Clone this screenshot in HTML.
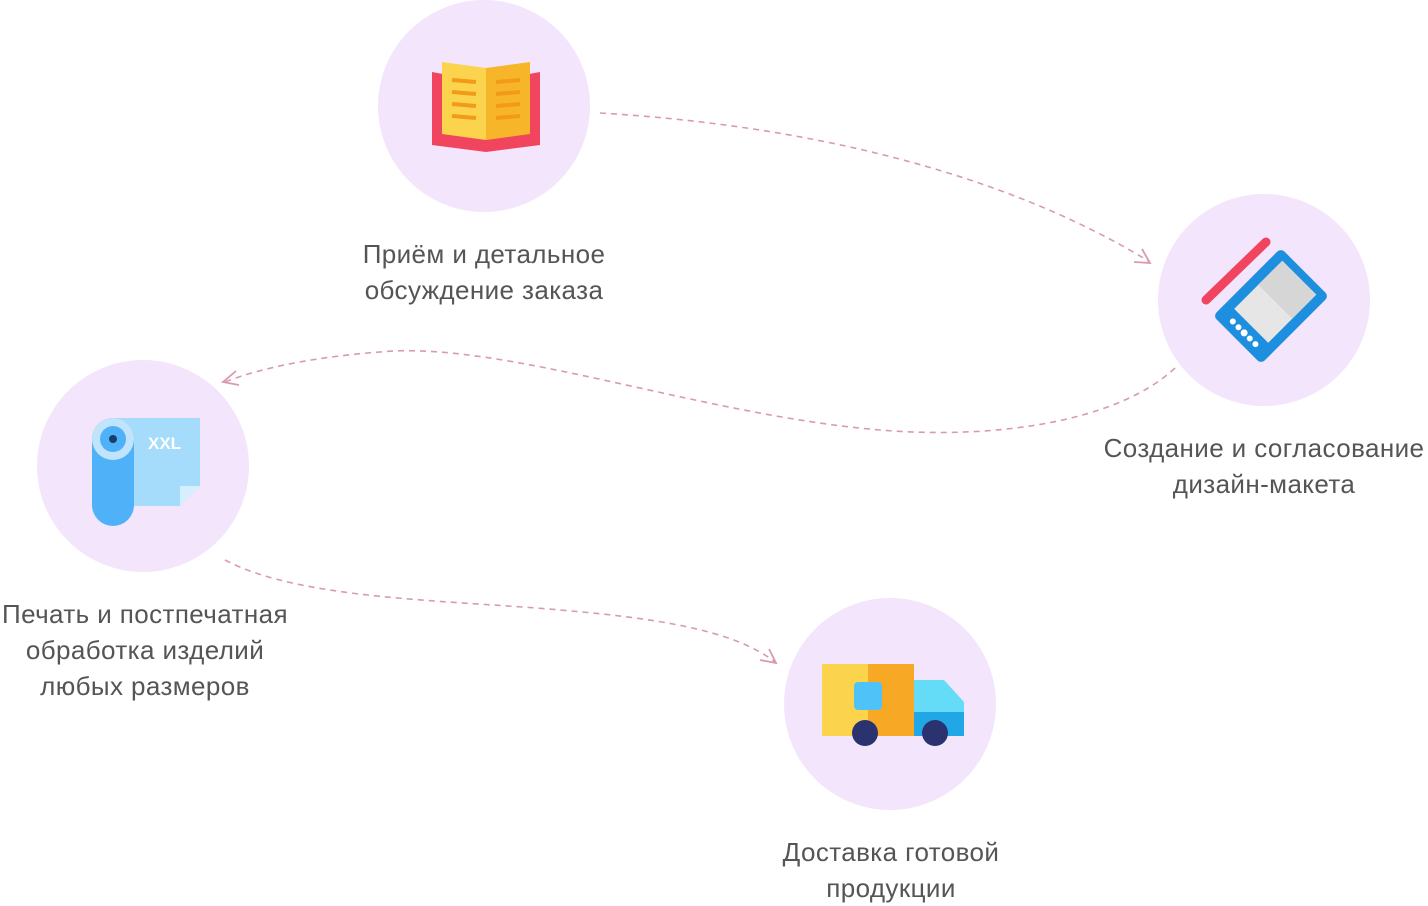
<!DOCTYPE html>
<html><head><meta charset="utf-8"><style>
body{margin:0;width:1428px;height:902px;background:#fff;position:relative;overflow:hidden;font-family:"Liberation Sans","DejaVu Sans",sans-serif}
.c{position:absolute;width:212px;height:212px;border-radius:50%;background:#f3e5fb}
.t{position:absolute;color:#555;font-size:26px;letter-spacing:0.4px;line-height:36px;text-align:center;white-space:nowrap}
</style></head><body>
<div class="c" style="left:378px;top:0px"></div>
<div class="c" style="left:1158px;top:194px"></div>
<div class="c" style="left:37px;top:360px"></div>
<div class="c" style="left:784px;top:598px"></div>
<svg width="1428" height="902" style="position:absolute;left:0;top:0">
<g fill="none" stroke="#d99ab0" stroke-width="1.6" stroke-dasharray="6 5">
<path d="M600 113 C800 125 1000 170 1150 262"/>
<path d="M1175 368 C1120 420 1000 440 880 430 C700 415 500 340 380 352 C300 358 250 372 225 382"/>
<path d="M225 560 C300 600 450 600 560 610 C680 620 740 635 775 662"/>
</g>
<g fill="none" stroke="#d99ab0" stroke-width="1.8">
<path d="M1134 262 L1150 263 L1142 249"/>
<path d="M236 371 L223 382 L239 385"/>
<path d="M760 660 L776 663 L769 649"/>
</g>
<path d="M432 72 L486 82 L540 72 L540 145 L486 152 L432 145Z" fill="#f0445f"/>
<path d="M442 62 L486 68 L486 140 L442 134Z" fill="#fcd34d"/>
<path d="M486 68 L530 62 L530 134 L486 140Z" fill="#f7b62a"/>
<g stroke="#f29a1a" stroke-width="4"><line x1="452" y1="80" x2="476" y2="82"/><line x1="452" y1="92" x2="476" y2="94"/><line x1="452" y1="104" x2="476" y2="106"/><line x1="452" y1="116" x2="476" y2="118"/><line x1="496" y1="82" x2="520" y2="80"/><line x1="496" y1="94" x2="520" y2="92"/><line x1="496" y1="106" x2="520" y2="104"/><line x1="496" y1="118" x2="520" y2="116"/></g>
<line x1="1206" y1="300" x2="1266" y2="242" stroke="#f0445f" stroke-width="9" stroke-linecap="round"/>
<g transform="translate(1271 306) rotate(-45)">
<rect x="-48" y="-34" width="96" height="68" rx="5" fill="#1e8fde"/>
<rect x="-28" y="-24" width="68" height="48" fill="#e6e6e6"/>
<rect x="6" y="-24" width="34" height="48" fill="#d6d6d6"/>
<g fill="#fff"><circle cx="-38" cy="-16" r="3"/><circle cx="-38" cy="-8" r="3"/><circle cx="-38" cy="0" r="3.5"/><circle cx="-38" cy="8" r="3"/><circle cx="-38" cy="16" r="3"/></g>
</g>
<path d="M114 418 L200 418 L200 486 L180 506 L114 506Z" fill="#a6dcfb"/>
<path d="M180 506 L200 486 L180 486Z" fill="#d6efff"/>
<rect x="92" y="418" width="42" height="108" rx="21" fill="#4fb2f8"/>
<circle cx="113" cy="439" r="21" fill="#bfe4fb"/>
<circle cx="113" cy="439" r="13" fill="#4fb2f8"/>
<circle cx="113" cy="439" r="4" fill="#1a3d6b"/>
<text x="148" y="449" font-size="17" font-weight="bold" fill="#fff" font-family="Liberation Sans">XXL</text>
<rect x="822" y="664" width="92" height="72" fill="#fcd34d"/>
<rect x="868" y="664" width="46" height="72" fill="#f7a825"/>
<rect x="854" y="682" width="28" height="28" rx="4" fill="#4fc3f7"/>
<path d="M914 680 L944 680 L964 702 L964 736 L914 736Z" fill="#64dcf7"/>
<rect x="914" y="712" width="50" height="24" fill="#22a7e6"/>
<circle cx="865" cy="733" r="13" fill="#2b3270"/>
<circle cx="935" cy="733" r="13" fill="#2b3270"/>
</svg>
<div class="t" style="left:284px;top:236px;width:400px">Приём и детальное<br>обсуждение заказа</div>
<div class="t" style="left:1064px;top:430px;width:400px">Создание и согласование<br>дизайн-макета</div>
<div class="t" style="left:-55px;top:596px;width:400px">Печать и постпечатная<br>обработка изделий<br>любых размеров</div>
<div class="t" style="left:691px;top:834px;width:400px">Доставка готовой<br>продукции</div>
</body></html>
